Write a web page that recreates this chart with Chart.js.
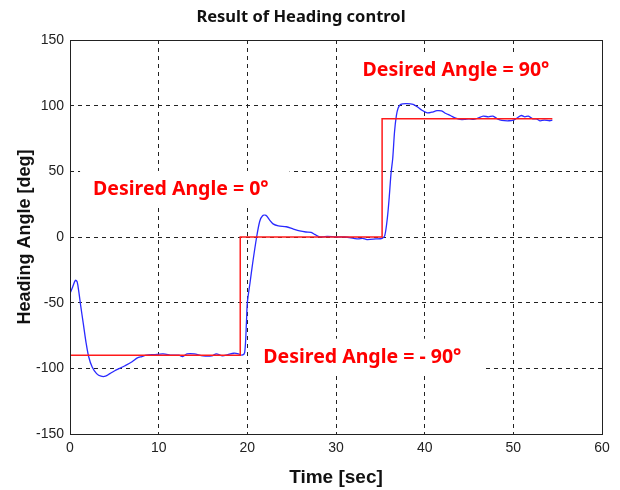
<!DOCTYPE html>
<html>
<head>
<meta charset="utf-8">
<title>Result of Heading control</title>
<script src="https://cdn.jsdelivr.net/npm/chart.js@4.4.1/dist/chart.umd.min.js"></script>
<style>
  html, body { margin: 0; padding: 0; background: #fff; }
  #wrap { width: 620px; height: 490px; }
</style>
</head>
<body>
<div id="wrap"><canvas id="headingChart" width="620" height="490"></canvas></div>
<script>
const timeSec = [0, 0.3, 0.6, 0.8, 1.0, 1.2, 1.5, 1.8, 2.1, 2.5, 3.0, 3.5, 4.0, 4.5, 5.0, 5.6, 6.2, 7.0, 7.6, 8.1,
    8.6, 9.5, 10.5, 11.5, 12.3, 12.7, 13.2, 14.0, 15.0, 16.0, 16.5, 17.2, 17.8, 18.5, 19.0, 19.4, 19.7, 19.9, 20.0, 20.3,
    20.6, 21.05, 21.4, 21.7, 22.1, 22.5, 22.9, 23.5, 24.4, 25.2, 25.9, 26.6, 27.2, 27.6, 28.0, 28.5, 29.0, 30.0, 31.0, 32.0,
    32.5, 33.0, 33.5, 34.5, 35.2, 35.5, 35.8, 36.0, 36.2, 36.4, 36.6, 36.8, 37.0, 37.3, 38.0, 38.7, 39.2, 39.7, 40.3, 40.8,
    41.4, 41.9, 42.4, 42.9, 43.5, 44.0, 44.5, 45.0, 45.5, 46.0, 46.6, 47.2, 47.7, 48.2, 48.7, 49.5, 50.0, 50.5, 50.9, 51.3,
    51.7, 52.2, 52.6, 53.0, 53.5, 54.1, 54.4];
const headingDeg = [-43, -38, -33, -34, -42, -52, -66, -80, -91, -99, -104, -106, -106, -104, -102, -100, -98, -95, -92, -91,
    -90, -89.5, -89, -90, -90, -91, -89, -89, -90.5, -90.5, -89, -90.5, -89.5, -88.5, -89, -90, -88, -65, -50, -35,
    -20, 0, 12, 16, 16.5, 13, 10, 8.5, 7.8, 6, 4.6, 3.8, 3.5, 2, 0.5, 0, 0.5, 0, 0, -1,
    -1.5, -1, -2, -1.5, -1, 1, 15, 30, 48, 60, 80, 92, 98, 101, 101.5, 101, 99, 96.5, 94.5, 95,
    96.2, 96, 94, 92.5, 90.5, 89.5, 89.5, 90, 89.5, 90.5, 92, 91.5, 92, 90, 88.8, 88.5, 89, 91, 92.5, 91.5,
    92, 90, 90, 88.5, 89, 88.5, 89];

// Desired heading (step command)
const desiredTime = [0, 19.2, 19.2, 35.2, 35.2, 54.4];
const desiredDeg = [-90, -90, 0, 0, 90, 90];

const xTicks = [0, 10, 20, 30, 40, 50, 60];
const yTicks = [-150, -100, -50, 0, 50, 100, 150];

// Text notes: start of text and baseline, in (sec, deg)
const noteTexts = ['Desired Angle = 90°', 'Desired Angle = 0°', 'Desired Angle = - 90°'];
const noteTime = [33.0, 2.6, 21.8];
const noteDeg = [122.6, 32.0, -95.7];

const NOTE_FONT = 'bold 19.5px "Noto Sans"';

const toPoints = (xs, ys) => xs.map((x, i) => ({ x: x, y: ys[i] }));

// White boxes behind notes, red text on top, frame round the plot
const notesPlugin = {
    id: 'notes',
    beforeDatasetsDraw(chart) {
        const { ctx, scales: { x, y } } = chart;
        ctx.save();
        ctx.font = NOTE_FONT;
        ctx.fillStyle = '#ffffff';
        noteTexts.forEach((txt, i) => {
            const px = x.getPixelForValue(noteTime[i]);
            const py = y.getPixelForValue(noteDeg[i]);
            const w = ctx.measureText(txt).width;
            ctx.fillRect(px - 13, py - 24, w + 34, 34);
        });
        ctx.restore();
    },
    afterDatasetsDraw(chart) {
        const { ctx, scales: { x, y } } = chart;
        ctx.save();
        ctx.font = NOTE_FONT;
        ctx.fillStyle = '#ff0000';
        ctx.textBaseline = 'alphabetic';
        noteTexts.forEach((txt, i) => {
            ctx.fillText(txt, x.getPixelForValue(noteTime[i]), y.getPixelForValue(noteDeg[i]));
        });
        ctx.restore();
    },
    afterDraw(chart) {
        const { ctx, chartArea: a } = chart;
        ctx.save();
        ctx.strokeStyle = '#222';
        ctx.lineWidth = 1;
        ctx.strokeRect(Math.round(a.left) + 0.5, Math.round(a.top) + 0.5,
            Math.round(a.right - a.left), Math.round(a.bottom - a.top));
        ctx.restore();
    }
};

const ctx = document.getElementById('headingChart').getContext('2d');

new Chart(ctx, {
    type: 'line',
    plugins: [notesPlugin],
    data: {
        datasets: [{
            label: 'Desired',
            data: toPoints(desiredTime, desiredDeg),
            borderColor: '#ff1a1a',
            borderWidth: 1.5,
            pointRadius: 0,
            tension: 0
        }, {
            label: 'Heading',
            data: toPoints(timeSec, headingDeg),
            borderColor: '#2a2aff',
            borderWidth: 1.3,
            pointRadius: 0,
            tension: 0.3
        }]
    },
    options: {
        responsive: false,
        animation: false,
        layout: { padding: { left: 0, right: 18, top: 0, bottom: 0 } },
        plugins: {
            legend: { display: false },
            tooltip: { enabled: false },
            title: {
                display: true,
                text: 'Result of Heading control',
                color: '#111',
                font: { family: '"Noto Sans"', size: 16.5, weight: 'bold', lineHeight: 1.2 },
                padding: { top: 7, bottom: 13.2 }
            }
        },
        scales: {
            x: {
                type: 'linear',
                min: xTicks[0],
                max: xTicks[xTicks.length - 1],
                afterBuildTicks: scale => { scale.ticks = xTicks.map(v => ({ value: v })); },
                afterFit: scale => { scale.height = 56; },
                grid: { color: '#222', lineWidth: 1, drawTicks: false },
                border: { display: false, dash: [4, 4] },
                ticks: {
                    color: '#222',
                    padding: 6,
                    font: { family: '"Liberation Sans"', size: 14 }
                },
                title: {
                    display: true,
                    text: 'Time [sec]',
                    color: '#111',
                    font: { family: '"Liberation Sans"', size: 19, weight: 'bold', lineHeight: 1.2 },
                    padding: { top: 0, bottom: 1 }
                }
            },
            y: {
                type: 'linear',
                min: yTicks[0],
                max: yTicks[yTicks.length - 1],
                afterBuildTicks: scale => { scale.ticks = yTicks.map(v => ({ value: v })); },
                afterFit: scale => { scale.width = 70; },
                grid: { color: '#222', lineWidth: 1, drawTicks: false },
                border: { display: false, dash: [4, 4] },
                ticks: {
                    color: '#222',
                    padding: 6,
                    font: { family: '"Liberation Sans"', size: 14 }
                },
                title: {
                    display: true,
                    text: 'Heading Angle [deg]',
                    color: '#111',
                    font: { family: '"Liberation Sans"', size: 18, weight: 'bold', lineHeight: 1.2 },
                    padding: { top: 14, bottom: 0 }
                }
            }
        }
    }
});
</script>
</body>
</html>
